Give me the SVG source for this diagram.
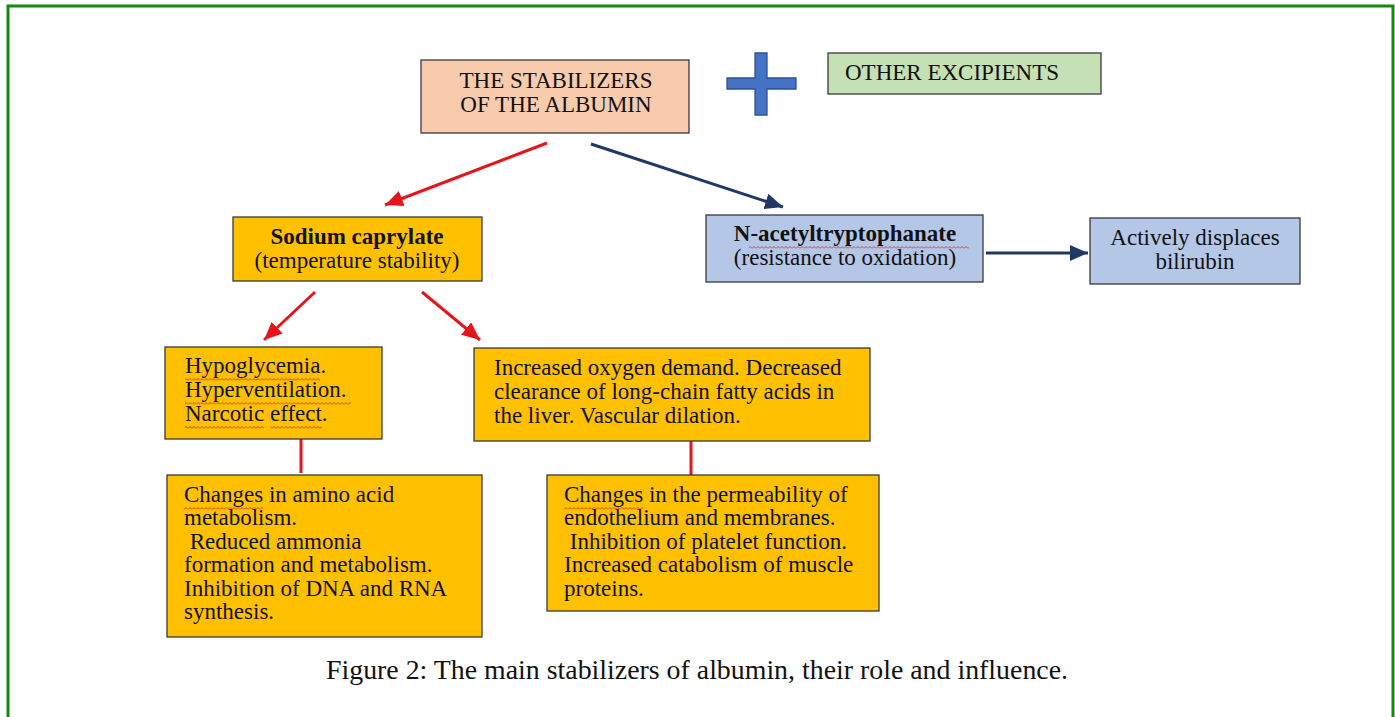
<svg xmlns="http://www.w3.org/2000/svg" width="1395" height="717" viewBox="0 0 1395 717">
<defs>
<style>
.t{font-family:"Liberation Serif","Times New Roman",serif;font-size:23px;fill:#111}
.b{font-weight:bold}
.c{text-anchor:middle}
.box{stroke:#3a3a3a;stroke-width:1.3}
.red{stroke:#e8141c;stroke-width:3;fill:none}
.navy{stroke:#1f3864;stroke-width:3;fill:none}
</style>
<marker id="ar" markerUnits="userSpaceOnUse" markerWidth="20" markerHeight="16" refX="18" refY="8" orient="auto"><path d="M0,0 L18,8 L0,16 Z" fill="#e8141c"/></marker>
<marker id="an" markerUnits="userSpaceOnUse" markerWidth="20" markerHeight="16" refX="18" refY="8" orient="auto"><path d="M0,0 L18,8 L0,16 Z" fill="#1f3864"/></marker>
<pattern id="wavy" width="4" height="3" patternUnits="userSpaceOnUse"><path d="M0,2.5 L2,0.5 L4,2.5" stroke="#d42020" stroke-width="0.8" fill="none"/></pattern>
</defs>
<rect width="1395" height="717" fill="#fff"/>
<path d="M8,717 V6 H1393 V717" fill="none" stroke="#128a12" stroke-width="3"/>

<g id="connectors">
<line class="red" x1="547" y1="143" x2="385" y2="205" marker-end="url(#ar)"/>
<line class="navy" x1="591" y1="144" x2="783" y2="207" marker-end="url(#an)"/>
<line class="navy" x1="986" y1="253" x2="1088" y2="253" marker-end="url(#an)"/>
<line class="red" x1="315" y1="292" x2="264" y2="340" marker-end="url(#ar)"/>
<line class="red" x1="422" y1="292" x2="480" y2="340" marker-end="url(#ar)"/>
<line class="red" x1="301" y1="439" x2="301" y2="473"/>
<line class="red" x1="691" y1="441" x2="691" y2="475"/>
</g>

<g id="stabilizers">
<rect class="box" x="421" y="60" width="268" height="73" fill="#f8cbad"/>
<text class="t c" x="556" y="88">THE STABILIZERS</text>
<text class="t c" x="556" y="112">OF THE ALBUMIN</text>
</g>

<g id="plus">
<path d="M755,53 H767 V78 H796 V89 H767 V115 H755 V89 H727 V78 H755 Z" fill="#4472c4" stroke="#2f528f" stroke-width="1.3"/>
</g>

<g id="excipients">
<rect class="box" x="828" y="53" width="273" height="41" fill="#c5e0b4"/>
<text class="t" x="845" y="80">OTHER EXCIPIENTS</text>
</g>

<g id="caprylate">
<rect class="box" x="233" y="217" width="249" height="64" fill="#ffc000"/>
<text class="t b c" x="357" y="244">Sodium caprylate</text>
<text class="t c" x="357" y="268">(temperature stability)</text>
</g>

<g id="acetyl">
<rect class="box" x="706" y="215" width="277" height="67" fill="#b4c7e7"/>
<text class="t b c" x="845" y="241">N-acetyltryptophanate</text>
<text class="t c" x="845" y="265">(resistance to oxidation)</text>
<rect x="749" y="246" width="220" height="3" fill="url(#wavy)"/>
</g>

<g id="bilirubin">
<rect class="box" x="1090" y="218" width="210" height="66" fill="#b4c7e7"/>
<text class="t c" x="1195" y="245">Actively displaces</text>
<text class="t c" x="1195" y="269">bilirubin</text>
</g>

<g id="hypo">
<rect class="box" x="165" y="347" width="217" height="92" fill="#ffc000"/>
<text class="t" x="185" y="373">Hypoglycemia.</text>
<text class="t" x="185" y="397">Hyperventilation.</text>
<text class="t" x="185" y="421">Narcotic effect.</text>
<rect x="185" y="378" width="135" height="3" fill="url(#wavy)"/>
<rect x="185" y="402" width="166" height="3" fill="url(#wavy)"/>
<rect x="185" y="426" width="79" height="3" fill="url(#wavy)"/>
<rect x="270" y="426" width="52" height="3" fill="url(#wavy)"/>
</g>

<g id="oxygen">
<rect class="box" x="474" y="348" width="396" height="93" fill="#ffc000"/>
<text class="t" x="494" y="375">Increased oxygen demand. Decreased</text>
<text class="t" x="494" y="399">clearance of long-chain fatty acids in</text>
<text class="t" x="494" y="423">the liver. Vascular dilation.</text>
</g>

<g id="amino">
<rect class="box" x="167" y="475" width="315" height="162" fill="#ffc000"/>
<text class="t" x="184" y="502">Changes in amino acid</text>
<text class="t" x="184" y="525">metabolism.</text>
<text class="t" x="184" y="549" xml:space="preserve"> Reduced ammonia</text>
<text class="t" x="184" y="572">formation and metabolism.</text>
<text class="t" x="184" y="596">Inhibition of DNA and RNA</text>
<text class="t" x="184" y="619">synthesis.</text>
<rect x="184" y="507" width="79" height="3" fill="url(#wavy)"/>
</g>

<g id="permeability">
<rect class="box" x="547" y="475" width="332" height="136" fill="#ffc000"/>
<text class="t" x="564" y="502">Changes in the permeability of</text>
<text class="t" x="564" y="525">endothelium and membranes.</text>
<text class="t" x="564" y="549" xml:space="preserve"> Inhibition of platelet function.</text>
<text class="t" x="564" y="572">Increased catabolism of muscle</text>
<text class="t" x="564" y="596">proteins.</text>
<rect x="564" y="507" width="79" height="3" fill="url(#wavy)"/>
</g>

<text x="697" y="679" text-anchor="middle" textLength="742" lengthAdjust="spacingAndGlyphs" style="font-family:'Liberation Serif','Times New Roman',serif;font-size:27px;fill:#111">Figure 2: The main stabilizers of albumin, their role and influence.</text>
</svg>
